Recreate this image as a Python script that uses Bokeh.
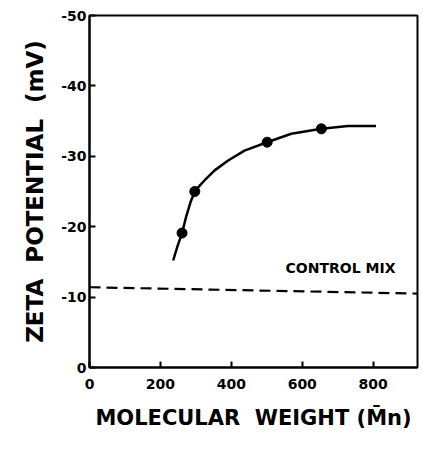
from bokeh.plotting import figure
from bokeh.models import Range1d, FixedTicker, Label
from bokeh.embed import file_html
from bokeh.resources import INLINE

# Measured data points (molecular weight Mn, zeta potential mV)
mw_points = [261, 297, 501, 654]
zeta_points = [-19.1, -25.0, -32.0, -33.9]

# Points
mw_curve = [236, 248, 261, 273, 285, 297, 312, 325, 353, 391, 437, 501, 569, 654, 729, 808]
zeta_curve = [-15.2, -17.2, -19.1, -21.5, -23.5, -25.0, -25.9, -26.6, -28.0, -29.4, -30.8, -32.0, -33.2, -33.9, -34.3, -34.3]

# Control mix dashed reference line
control_mw = [0, 925]
control_zeta = [-11.4, -10.5]
control_label = "CONTROL MIX"
control_label_pos = (553, -13.0)

x_ticks = [0, 200, 400, 600, 800]
x_tick_labels = ["0", "200", "400", "600", "800"]
y_ticks = [0, -10, -20, -30, -40, -50]
y_tick_labels = ["0", "-10", "-20", "-30", "-40", "-50"]

FONT = "DejaVu Sans"
NB = "\u00a0"

p = figure(width=420, height=445, output_backend="svg", toolbar_location=None,
           x_range=Range1d(0, 925), y_range=Range1d(0, -50),
           min_border_left=89, min_border_right=3, min_border_top=15, min_border_bottom=78)

p.background_fill_color = "white"
p.border_fill_color = "white"
p.outline_line_color = "black"
p.outline_line_width = 2
p.xgrid.visible = False
p.ygrid.visible = False

for ax in (p.xaxis[0], p.yaxis[0]):
    ax.axis_line_color = "black"
    ax.axis_line_width = 2
    ax.major_tick_line_color = "black"
    ax.major_tick_line_width = 2
    ax.major_tick_in = 6
    ax.major_tick_out = 0
    ax.minor_tick_line_color = None
    ax.major_label_text_font = FONT
    ax.major_label_text_font_style = "bold"
    ax.major_label_text_font_size = "14px"
    ax.major_label_text_color = "black"
    ax.axis_label_text_font = FONT
    ax.axis_label_text_font_style = "bold"
    ax.axis_label_text_color = "black"

p.xaxis[0].ticker = FixedTicker(ticks=x_ticks)
p.xaxis[0].major_label_overrides = {t: l for t, l in zip(x_ticks, x_tick_labels)}
p.yaxis[0].ticker = FixedTicker(ticks=y_ticks)
p.yaxis[0].major_label_overrides = {t: l for t, l in zip(y_ticks, y_tick_labels)}

p.xaxis[0].major_label_standoff = 11
p.yaxis[0].major_label_standoff = 3

p.xaxis[0].axis_label = "MOLECULAR" + NB + NB + "WEIGHT" + NB + "(M\u0304n)"
p.xaxis[0].axis_label_text_font_size = "21px"
p.xaxis[0].axis_label_standoff = 14
p.yaxis[0].axis_label = "ZETA" + NB + NB + "POTENTIAL" + NB + NB + "(mV)"
p.yaxis[0].axis_label_text_font_size = "23px"
p.yaxis[0].axis_label_standoff = 10

p.line(control_mw, control_zeta, line_color="black", line_width=2.2, line_dash="11 6")
p.line(mw_curve, zeta_curve, line_color="black", line_width=2.5)
p.scatter(mw_points, zeta_points, size=10, fill_color="black", line_color="black")

p.add_layout(Label(x=control_label_pos[0], y=control_label_pos[1], text=control_label,
                   text_font=FONT, text_font_style="bold", text_font_size="14px",
                   text_color="black", text_baseline="bottom", text_align="left"))

open("out.html", "w").write(file_html(p, INLINE))
